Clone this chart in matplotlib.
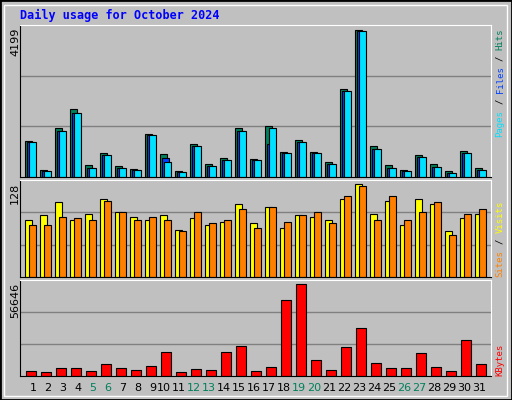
"""Webalizer-style daily usage chart for October 2024."""
import matplotlib.pyplot as plt
from matplotlib.patches import Rectangle

plt.switch_backend("agg")

days = list(range(1, 32))
hits = [1036, 209, 1387, 1929, 333, 694, 304, 238, 1235, 665, 181, 950, 380, 551, 1387, 523,
        1463, 722, 1064, 722, 437, 2518, 4199, 874, 333, 209, 618, 361, 181, 751, 266]
files = [1007, 181, 1321, 1834, 266, 637, 266, 209, 1206, 551, 152, 893, 323, 494, 1321, 494,
         931, 694, 1007, 694, 380, 2460, 4170, 808, 266, 181, 580, 295, 124, 694, 209]
pages = [1007, 181, 1321, 1834, 266, 637, 266, 209, 1206, 437, 152, 893, 323, 494, 1321, 494,
         1406, 694, 1007, 694, 380, 2460, 4170, 808, 266, 181, 580, 295, 124, 694, 209]
visits = [79, 85, 103, 79, 87, 107, 90, 82, 79, 86, 65, 81, 71, 76, 100, 75,
          97, 67, 86, 82, 79, 107, 128, 87, 105, 72, 108, 101, 64, 81, 87]
sites = [72, 72, 82, 81, 79, 105, 89, 79, 82, 79, 64, 90, 74, 79, 93, 67,
         96, 76, 86, 89, 75, 111, 125, 79, 111, 79, 90, 103, 58, 87, 93]
kbytes = [2894, 2274, 4754, 4754, 2894, 7235, 4754, 3514, 5994, 14676, 2274, 4134, 3514,
          14676, 18396, 2894, 5374, 46921, 56646, 9715, 3514, 17776, 29558, 7855, 4754,
          4754, 14056, 5374, 2894, 22117, 7235]
weekends = [5, 6, 12, 13, 19, 20, 26, 27]

BG = "#c0c0c0"
W, H = 512, 400
fig = plt.figure(figsize=(W / 100, H / 100), dpi=100, facecolor=BG)

# outer bevel
fig.patches.append(Rectangle((0, 0), 1, 1, transform=fig.transFigure, fill=False,
                             edgecolor="black", linewidth=2))
fig.patches.append(Rectangle((4 / W, 4 / H), 1 - 9 / W, 1 - 9 / H, transform=fig.transFigure,
                             fill=False, edgecolor="white", linewidth=1))


def panel(y0, y1, top):
    ax = fig.add_axes([20 / W, 1 - y1 / H, 471 / W, (y1 - y0) / H])
    ax.set_facecolor(BG)
    ax.set_xlim(0.5, 31.9)
    ax.set_ylim(0, top)
    ax.set_xticks([])
    ax.set_yticks([])
    for f in (1 / 3, 2 / 3):
        ax.axhline(top * f, color="#808080", linewidth=1, zorder=0)
    for s in ("top", "right"):
        ax.spines[s].set_color("white")
    for s in ("left", "bottom"):
        ax.spines[s].set_color("black")
    return ax


mono = "DejaVu Sans Mono"

ax1 = panel(25, 177, 4199 * 152 / 147.5)
ax1.bar([d - 0.15 for d in days], hits, width=0.48, align="edge", color="#00805c",
        edgecolor="black", linewidth=0.8)
ax1.bar([d - 0.05 for d in days], files, width=0.48, align="edge", color="#0040ff",
        edgecolor="black", linewidth=0.8)
ax1.bar([d + 0.07 for d in days], pages, width=0.52, align="edge", color="#00e0ff",
        edgecolor="black", linewidth=0.8)

ax2 = panel(180, 277, 128 * 97 / 93)
ax2.bar([d - 0.15 for d in days], visits, width=0.48, align="edge", color="#ffff00",
        edgecolor="black", linewidth=0.8)
ax2.bar([d + 0.07 for d in days], sites, width=0.52, align="edge", color="#ff8000",
        edgecolor="black", linewidth=0.8)

ax3 = panel(280, 376, 56646 * 95.7 / 91.4)
ax3.bar([d - 0.12 for d in days], kbytes, width=0.7, align="edge", color="#ff0000",
        edgecolor="black", linewidth=0.8)

for d in days:
    ax3.text(d + (0.37 if d < 10 else 0.12), -0.13, str(d), transform=ax3.get_xaxis_transform(),
             ha="center", va="center", fontsize=8, family="DejaVu Sans",
             color="#00805c" if d in weekends else "black")

fig.text(20 / W, 1 - 15 / H, "Daily usage for October 2024", color="#0000ff", fontsize=8.5,
         fontweight="bold", family=mono, va="center")

for label, ytop in (("4199", 28), ("128", 183), ("56646", 283)):
    fig.text(15 / W, 1 - ytop / H, label, rotation=90, fontsize=8, family="DejaVu Sans",
             ha="center", va="top")


def side_label(parts, ybottom):
    y = ybottom
    for txt, col in parts:
        fig.text(500 / W, 1 - y / H, txt, rotation=90, fontsize=6.5, family=mono,
                 color=col, ha="center", va="bottom")
        y -= 5.45 * (len(txt) + 1)


side_label([("Pages", "#00e0ff"), ("/", "#000000"), ("Files", "#0040ff"),
            ("/", "#000000"), ("Hits", "#00805c")], 137)
side_label([("Sites", "#ff8000"), ("/", "#000000"), ("Visits", "#ffff00")], 277)
side_label([("KBytes", "#ff0000")], 376)

fig.savefig("out.png", dpi=100, facecolor=BG)
plt.close()
